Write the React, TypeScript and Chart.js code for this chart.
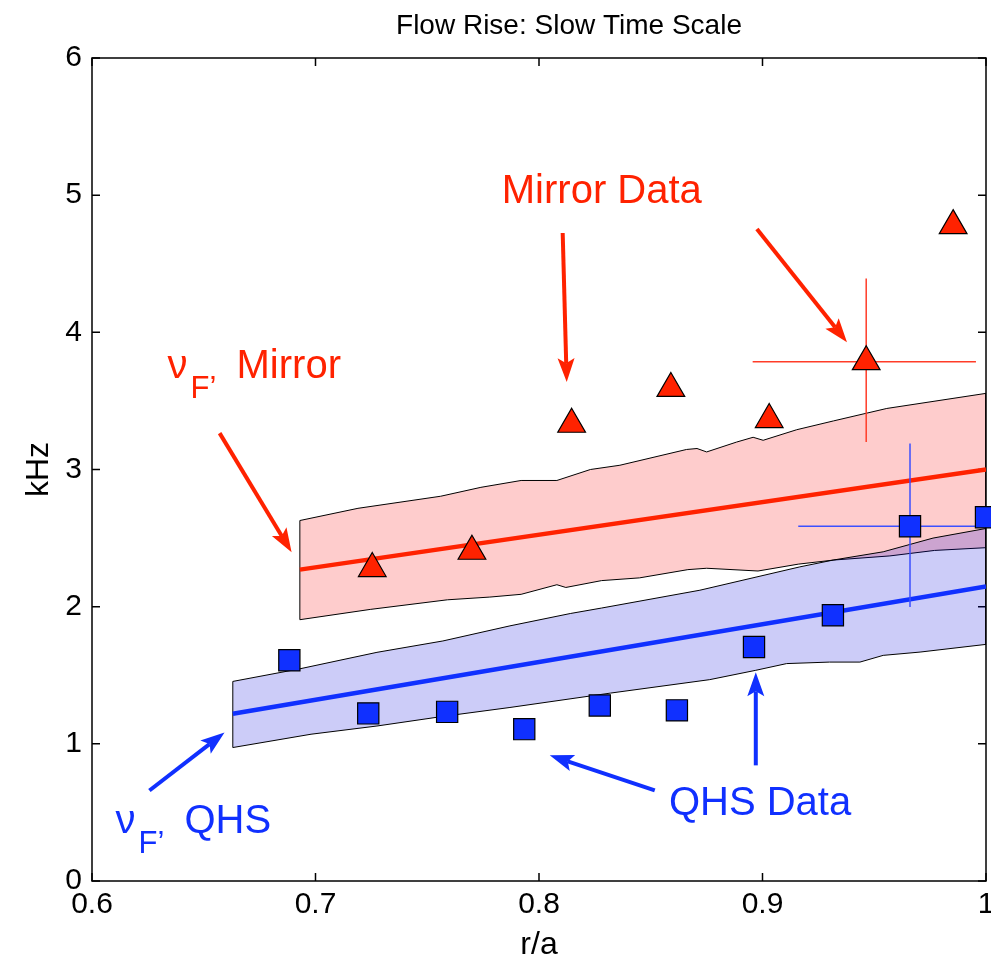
import React, { useEffect, useRef } from 'react';
import { Chart, registerables } from 'chart.js';

Chart.register(...registerables);

const FONT = "'Liberation Sans', Arial, Helvetica, sans-serif";
const RED = 'rgb(255,34,0)';
const BLUE = 'rgb(16,48,255)';
const RED_ERR = 'rgb(255,60,40)';
const BLUE_ERR = 'rgb(60,80,255)';

const TITLE = 'Flow Rise: Slow Time Scale';
const X_LABEL = 'r/a';
const Y_LABEL = 'kHz';
const X_TICKS = [0.6, 0.7, 0.8, 0.9, 1.0];
const X_TICK_LABELS = ['0.6', '0.7', '0.8', '0.9', '1'];
const Y_TICKS = [0, 1, 2, 3, 4, 5, 6];
const Y_TICK_LABELS = ['0', '1', '2', '3', '4', '5', '6'];

// Mirror data (triangles)
const mirrorX = [0.7254, 0.770, 0.8146, 0.859, 0.903, 0.9464, 0.9853];
const mirrorY = [2.278, 2.404, 3.33, 3.591, 3.364, 3.786, 4.778];
// QHS data (squares)
const qhsX = [0.6883, 0.7236, 0.7589, 0.7934, 0.8272, 0.8617, 0.8962, 0.9315, 0.966, 1.0];
const qhsY = [1.609, 1.222, 1.233, 1.107, 1.28, 1.244, 1.706, 1.937, 2.586, 2.652];

// error bars
const mirrorErrIndex = 5;
const mirrorErrX = [0.8956, 0.9955];
const mirrorErrY = [3.201, 4.393];
const qhsErrIndex = 8;
const qhsErrX = [0.916, 1.0];
const qhsErrY = [1.997, 3.189];

// fit lines (nu_F)
const mirrorFitX = [0.693, 1.0];
const mirrorFitY = [2.27, 3.0];
const qhsFitX = [0.663, 1.0];
const qhsFitY = [1.22, 2.148];

// Mirror band
const mirrorUpX = [0.693, 0.719, 0.756, 0.774, 0.792, 0.808, 0.823, 0.8362, 0.866, 0.8707, 0.875, 0.8884, 0.8958, 0.9003, 0.9153, 0.9317, 0.9556, 1.0];
const mirrorUpY = [2.628, 2.717, 2.805, 2.87, 2.92, 2.92, 3.0, 3.031, 3.146, 3.153, 3.128, 3.2, 3.235, 3.213, 3.29, 3.354, 3.445, 3.555];
const mirrorLoX = [0.693, 0.7245, 0.759, 0.778, 0.792, 0.808, 0.812, 0.828, 0.845, 0.8666, 0.875, 0.898, 0.916, 0.932, 0.957, 0.977, 1.0];
const mirrorLoY = [1.905, 1.98, 2.05, 2.07, 2.09, 2.16, 2.14, 2.19, 2.21, 2.27, 2.28, 2.26, 2.31, 2.34, 2.37, 2.41, 2.43];

// QHS band
const qhsUpX = [0.663, 0.693, 0.7275, 0.757, 0.787, 0.814, 0.828, 0.872, 0.9167, 0.9317, 0.954, 0.9763, 1.0];
const qhsUpY = [1.455, 1.547, 1.667, 1.75, 1.86, 1.95, 1.99, 2.12, 2.29, 2.34, 2.40, 2.50, 2.57];
const qhsLoX = [0.663, 0.698, 0.7275, 0.757, 0.787, 0.832, 0.8764, 0.897, 0.9108, 0.930, 0.9436, 0.954, 0.9705, 1.0];
const qhsLoY = [0.973, 1.07, 1.13, 1.2, 1.265, 1.37, 1.468, 1.536, 1.585, 1.596, 1.596, 1.645, 1.669, 1.725];

// annotation arrows (data coordinates)
const arrowFromX = [0.8106, 0.8975, 0.6571, 0.897, 0.8518, 0.6257];
const arrowFromY = [4.724, 4.753, 3.265, 0.843, 0.660, 0.660];
const arrowToX = [0.8124, 0.9378, 0.6893, 0.897, 0.8048, 0.6593];
const arrowToY = [3.637, 3.928, 2.397, 1.521, 0.916, 1.083];
const arrowColors = [RED, RED, RED, BLUE, BLUE, BLUE];

// annotation texts
const textLabels = ['Mirror Data', 'QHS Data'];
const textX = [0.8281, 0.8989];
const textY = [4.942, 0.478];
const textColors = [RED, BLUE];

const nuSuffix = ['Mirror', 'QHS'];
const nuX = [0.6338, 0.6105];
const nuY = [3.666, 0.347];
const nuColors = [RED, BLUE];

function pts(xs: number[], ys: number[]) {
  return xs.map((x, i) => ({ x, y: ys[i] }));
}

function polygon(ux: number[], uy: number[], lx: number[], ly: number[]) {
  const p = pts(ux, uy);
  for (let i = lx.length - 1; i >= 0; i--) p.push({ x: lx[i], y: ly[i] });
  p.push({ x: ux[0], y: uy[0] });
  return p;
}

function drawArrow(ctx: CanvasRenderingContext2D, x1: number, y1: number, x2: number, y2: number, color: string) {
  const ang = Math.atan2(y2 - y1, x2 - x1);
  const headLen = 24;
  const headW = 8.5;
  const c = Math.cos(ang), s = Math.sin(ang);
  const bx = x2 - headLen * c, by = y2 - headLen * s;
  const nx = x2 - (headLen - 5) * c, ny = y2 - (headLen - 5) * s;
  ctx.save();
  ctx.strokeStyle = color;
  ctx.lineWidth = 4;
  ctx.beginPath();
  ctx.moveTo(x1, y1);
  ctx.lineTo(nx, ny);
  ctx.stroke();
  ctx.fillStyle = color;
  ctx.beginPath();
  ctx.moveTo(x2, y2);
  ctx.lineTo(bx + headW * s, by - headW * c);
  ctx.lineTo(nx, ny);
  ctx.lineTo(bx - headW * s, by + headW * c);
  ctx.closePath();
  ctx.fill();
  ctx.restore();
}

const overlayPlugin = {
  id: 'overlay',
  beforeDatasetsDraw(chart: any) {
    const { ctx, chartArea: a, scales } = chart;
    ctx.save();
    // title (centred slightly right of the axes centre, as in the source figure)
    ctx.fillStyle = '#000';
    ctx.font = `28px ${FONT}`;
    ctx.textAlign = 'center';
    ctx.textBaseline = 'middle';
    ctx.fillText(TITLE, (a.left + a.right) / 2 + 30, 26);
    // axes box
    ctx.strokeStyle = '#000';
    ctx.lineWidth = 1.5;
    ctx.strokeRect(a.left, a.top, a.right - a.left, a.bottom - a.top);
    const tl = 8;
    ctx.beginPath();
    X_TICKS.forEach((v) => {
      const px = scales.x.getPixelForValue(v);
      ctx.moveTo(px, a.bottom);
      ctx.lineTo(px, a.bottom - tl);
      ctx.moveTo(px, a.top);
      ctx.lineTo(px, a.top + tl);
    });
    Y_TICKS.forEach((v) => {
      const py = scales.y.getPixelForValue(v);
      ctx.moveTo(a.left, py);
      ctx.lineTo(a.left + tl, py);
      ctx.moveTo(a.right, py);
      ctx.lineTo(a.right - tl, py);
    });
    ctx.stroke();
    ctx.restore();
  },
  afterDatasetDraw(chart: any, args: any) {
    if (args.index !== 2) return;
    const { ctx, scales } = chart;
    const X = (v: number) => scales.x.getPixelForValue(v);
    const Y = (v: number) => scales.y.getPixelForValue(v);
    const bars = [
      { cx: mirrorX[mirrorErrIndex], cy: mirrorY[mirrorErrIndex], ex: mirrorErrX, ey: mirrorErrY, color: RED_ERR },
      { cx: qhsX[qhsErrIndex], cy: qhsY[qhsErrIndex], ex: qhsErrX, ey: qhsErrY, color: BLUE_ERR },
    ];
    ctx.save();
    bars.forEach((b) => {
      ctx.strokeStyle = b.color;
      ctx.lineWidth = 1.5;
      ctx.beginPath();
      ctx.moveTo(X(b.ex[0]), Y(b.cy));
      ctx.lineTo(X(b.ex[1]), Y(b.cy));
      ctx.moveTo(X(b.cx), Y(b.ey[0]));
      ctx.lineTo(X(b.cx), Y(b.ey[1]));
      ctx.stroke();
    });
    ctx.restore();
  },
  afterDatasetsDraw(chart: any) {
    const { ctx, scales } = chart;
    const X = (v: number) => scales.x.getPixelForValue(v);
    const Y = (v: number) => scales.y.getPixelForValue(v);
    arrowFromX.forEach((_, i) => {
      drawArrow(ctx, X(arrowFromX[i]), Y(arrowFromY[i]), X(arrowToX[i]), Y(arrowToY[i]), arrowColors[i]);
    });
    ctx.save();
    ctx.textBaseline = 'alphabetic';
    textLabels.forEach((t, i) => {
      ctx.fillStyle = textColors[i];
      ctx.font = `40px ${FONT}`;
      ctx.textAlign = 'center';
      ctx.fillText(t, X(textX[i]), Y(textY[i]));
    });
    nuSuffix.forEach((t, i) => {
      const x = X(nuX[i]);
      const y = Y(nuY[i]);
      ctx.fillStyle = nuColors[i];
      ctx.textAlign = 'left';
      ctx.font = `40px ${FONT}`;
      ctx.fillText('\u03bd', x, y);
      ctx.font = `31px ${FONT}`;
      ctx.fillText('F\u2019', x + 23, y + 20);
      ctx.font = `40px ${FONT}`;
      ctx.fillText(t, x + 69, y);
    });
    ctx.restore();
  },
};

export default function App() {
  const ref = useRef<HTMLCanvasElement>(null);
  useEffect(() => {
    const canvas = ref.current;
    if (!canvas) return;
    const chart = new Chart(canvas, {
      type: 'line',
      data: {
        datasets: [
          {
            label: 'Mirror Data',
            data: pts(mirrorX, mirrorY),
            showLine: false,
            pointStyle: 'triangle',
            pointRadius: 16,
            pointBackgroundColor: RED,
            pointBorderColor: '#000',
            pointBorderWidth: 1.2,
            clip: false,
          } as any,
          {
            label: 'QHS Data',
            data: pts(qhsX, qhsY),
            showLine: false,
            pointStyle: 'rect',
            pointRadius: 15,
            pointBackgroundColor: BLUE,
            pointBorderColor: '#000',
            pointBorderWidth: 1.2,
            clip: false,
          } as any,
          {
            label: 'nu_F Mirror',
            data: pts(mirrorFitX, mirrorFitY),
            borderColor: RED,
            borderWidth: 4.5,
            pointRadius: 0,
            fill: false,
          },
          {
            label: 'nu_F QHS',
            data: pts(qhsFitX, qhsFitY),
            borderColor: BLUE,
            borderWidth: 4.5,
            pointRadius: 0,
            fill: false,
          },
          {
            label: 'QHS band',
            data: polygon(qhsUpX, qhsUpY, qhsLoX, qhsLoY),
            borderColor: '#000',
            borderWidth: 1,
            backgroundColor: 'rgba(0,0,220,0.2)',
            pointRadius: 0,
            fill: 'shape',
            tension: 0,
          } as any,
          {
            label: 'Mirror band',
            data: polygon(mirrorUpX, mirrorUpY, mirrorLoX, mirrorLoY),
            borderColor: '#000',
            borderWidth: 1,
            backgroundColor: 'rgba(250,0,0,0.2)',
            pointRadius: 0,
            fill: 'shape',
            tension: 0,
          } as any,
        ],
      },
      options: {
        animation: false,
        responsive: false,
        devicePixelRatio: 1,
        layout: { autoPadding: false, padding: { left: 0, right: 5, top: 58, bottom: 0 } },
        plugins: {
          legend: { display: false },
          tooltip: { enabled: false },
          title: { display: false },
        },
        scales: {
          x: {
            type: 'linear',
            min: 0.6,
            max: 1.0,
            afterBuildTicks: (s: any) => {
              s.ticks = X_TICKS.map((v) => ({ value: v }));
            },
            afterFit: (s: any) => {
              s.height = 83;
              s.paddingLeft = 0;
              s.paddingRight = 0;
            },
            ticks: {
              callback: (_v: any, i: number) => X_TICK_LABELS[i],
              color: '#000',
              font: { family: FONT, size: 30 },
              padding: 6,
              maxRotation: 0,
              autoSkip: false,
            },
            grid: { display: false, drawTicks: false },
            border: { display: false },
            title: {
              display: true,
              text: X_LABEL,
              color: '#000',
              font: { family: FONT, size: 32 },
              padding: { top: 0, bottom: 0 },
            },
          },
          y: {
            type: 'linear',
            min: 0,
            max: 6,
            afterBuildTicks: (s: any) => {
              s.ticks = Y_TICKS.map((v) => ({ value: v }));
            },
            afterFit: (s: any) => {
              s.width = 92;
              s.paddingTop = 0;
              s.paddingBottom = 0;
            },
            ticks: {
              callback: (_v: any, i: number) => Y_TICK_LABELS[i],
              color: '#000',
              font: { family: FONT, size: 30 },
              padding: 10,
              autoSkip: false,
            },
            grid: { display: false, drawTicks: false },
            border: { display: false },
            title: {
              display: true,
              text: Y_LABEL,
              color: '#000',
              font: { family: FONT, size: 32 },
              padding: { top: 20, bottom: 20 },
            },
          },
        },
      } as any,
      plugins: [overlayPlugin],
    });
    return () => chart.destroy();
  }, []);
  return (
    <div style={{ position: 'absolute', left: 0, top: 0, width: 991, height: 964, background: '#fff' }}>
      <canvas ref={ref} width={991} height={964} style={{ display: 'block' }} />
    </div>
  );
}
